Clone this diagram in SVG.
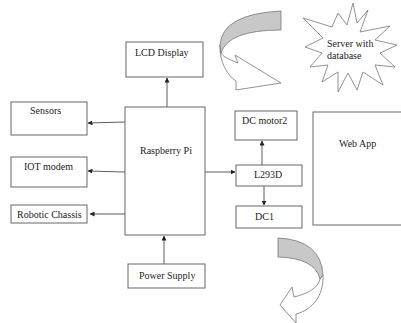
<svg xmlns="http://www.w3.org/2000/svg" width="401" height="323" viewBox="0 0 401 323">
<defs>
<style>
.box{fill:#fff;stroke:#666;stroke-width:1}
text{font-family:'Liberation Serif',serif;font-size:10px;fill:#222}
.c{stroke:#333;stroke-width:0.8;fill:none;marker-end:url(#ah)}
.sh{stroke:#777;stroke-width:0.8;fill:#fff}
.gr{fill:#c8c8c8}
</style>
<marker id="ah" viewBox="0 0 10 10" refX="9" refY="5" markerWidth="5" markerHeight="5" orient="auto" markerUnits="userSpaceOnUse">
<path d="M0,0 L10,5 L0,10 Z" fill="#222"/>
</marker>
</defs>
<rect width="401" height="323" fill="#fff"/>
<g id="connectors">
<line class="c" x1="167" y1="107" x2="167" y2="78"/>
<line class="c" x1="125" y1="122" x2="88" y2="123"/>
<line class="c" x1="125" y1="172" x2="88" y2="171"/>
<line class="c" x1="125" y1="214" x2="90" y2="214"/>
<line class="c" x1="205" y1="172" x2="235" y2="172"/>
<line class="c" x1="262" y1="165" x2="262" y2="141"/>
<line class="c" x1="264" y1="186" x2="264" y2="205"/>
<line class="c" x1="164" y1="264" x2="164" y2="236"/>
</g>
<g id="lcd"><rect class="box" x="126" y="42" width="77" height="35"/><text x="135" y="56">LCD Display</text></g>
<g id="sensors"><rect class="box" x="11" y="102" width="76" height="33"/><text x="30" y="114">Sensors</text></g>
<g id="iot"><rect class="box" x="11" y="157" width="76" height="30"/><text x="24" y="170">IOT modem</text></g>
<g id="chassis"><rect class="box" x="11" y="205" width="76" height="18"/><text x="17" y="218">Robotic Chassis</text></g>
<g id="rpi"><rect class="box" x="125" y="107" width="80" height="128"/><text x="140" y="154">Raspberry Pi</text></g>
<g id="dcmotor2"><rect class="box" x="235" y="111" width="62" height="29"/><text x="242" y="124">DC motor2</text></g>
<g id="l293d"><rect class="box" x="236" y="165" width="66" height="21"/><text x="254" y="178">L293D</text></g>
<g id="dc1"><rect class="box" x="236" y="206" width="66" height="22"/><text x="255" y="220">DC1</text></g>
<g id="webapp"><rect class="box" x="313" y="112" width="92" height="113"/><text x="339" y="147">Web App</text></g>
<g id="power"><rect class="box" x="128" y="264" width="77" height="24"/><text x="139" y="279">Power Supply</text></g>
<g id="server">
<polygon class="sh" points="368,10 360,32 390,26 375,40 397,45 380,53 395,67 375,65 383,85 363,72 357,90 348,73 338,92 338,72 322,82 328,65 310,67 322,53 305,47 323,38 303,18 332,27 338,13 347,25 353,3 357,23"/>
<text x="327" y="47">Server with</text>
<text x="327" y="59">database</text>
</g>
<g id="curved-arrow-top">
<path class="sh" d="M220,45 C219,62 228,76 236,81 L236,90 L281,83 L235,55 L238,63 C228,59 222,56 221,53 Z"/>
<path class="sh gr" d="M281,11 Q222,14 220,45 L221,53 Q228,30 281,30 Z"/>
</g>
<g id="curved-arrow-bottom">
<path class="sh" d="M323,275 C324,296 312,310 296,314 L296,323 L280,305 L292,287 L294,297 C306,294 318,289 320,279 Z"/>
<path class="sh gr" d="M278,238 Q321,240 323,275 L320,279 Q315,258 278,257 Z"/>
</g>
</svg>
